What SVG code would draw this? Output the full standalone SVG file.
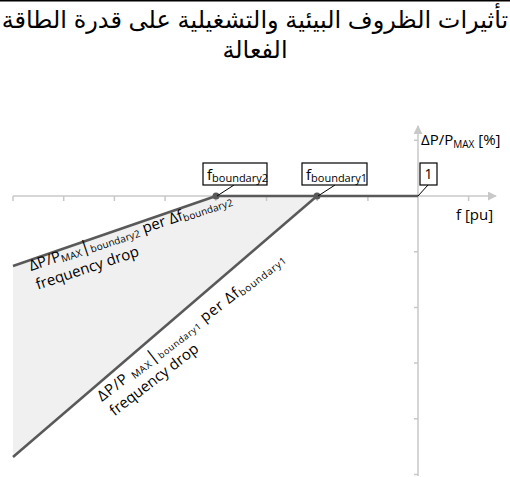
<svg xmlns="http://www.w3.org/2000/svg" width="510" height="477" viewBox="0 0 510 477">
<style>
.title{font-family:"Liberation Sans","DejaVu Sans",sans-serif;font-size:24px;fill:#000;text-anchor:middle}
.lbl{font-family:"Open Sans","Noto Sans",sans-serif;font-size:15px;fill:#000}
.sub{font-size:10px}
.axis{stroke:#c8c8c8;stroke-width:1.5;fill:none}
.data{stroke:#595959;stroke-width:2.5;fill:none}
.box{fill:#fff;stroke:#000;stroke-width:1.2}
.lead{stroke:#000;stroke-width:1;fill:none}
</style>
<defs>
<marker id="arr" viewBox="0 0 10 10" refX="9" refY="5" markerWidth="9" markerHeight="9" markerUnits="userSpaceOnUse" orient="auto">
<path d="M0,0 L10,5 L0,10 z" fill="#c8c8c8"/>
</marker>
</defs>
<rect x="0" y="0" width="510" height="1.5" fill="#000"/>
<text class="title" x="255" y="28">تأثيرات الظروف البيئية والتشغيلية على قدرة الطاقة</text>
<text class="title" x="255" y="58">الفعالة</text>

<g id="area">
<polygon points="13,266 216,196 317,196 13,457" fill="#f0f0f0"/>
</g>

<g id="axes">
<line class="axis" x1="13" y1="196" x2="496" y2="196" marker-end="url(#arr)"/>
<line class="axis" x1="418" y1="476" x2="418" y2="126" marker-end="url(#arr)"/>
<path class="axis" d="M13,196v5 M63.7,196v5 M114.4,196v5 M165.1,196v5 M215.8,196v5 M266.5,196v5 M317.2,196v5 M367.9,196v5 M468.6,196v5"/>
<path class="axis" d="M418,140.3h-4 M418,251.7h-4 M418,307.4h-4 M418,363.1h-4 M418,418.8h-4 M418,474.5h-4"/>
<text class="lbl" x="421" y="145">ΔP/P<tspan class="sub" dy="3">MAX</tspan><tspan dy="-3"> [%]</tspan></text>
<text class="lbl" x="456" y="220">f [pu]</text>
</g>

<g id="connectors">
<line class="data" x1="216" y1="196" x2="418" y2="196"/>
<line class="data" x1="216" y1="196" x2="13" y2="266"/>
<line class="data" x1="317" y1="196" x2="13" y2="457"/>
<circle cx="216" cy="196" r="3.5" fill="#595959"/>
<circle cx="317" cy="196" r="3.5" fill="#595959"/>
<line class="lead" x1="234" y1="185" x2="217" y2="196"/>
<line class="lead" x1="335" y1="185" x2="318" y2="196"/>
<line class="lead" x1="428" y1="185" x2="418" y2="196"/>
</g>

<g id="node-fb2">
<rect class="box" x="203" y="163" width="64" height="22"/>
<text class="lbl" x="207" y="180" style="font-size:15px">f<tspan style="font-size:11px" dy="2">boundary2</tspan></text>
</g>
<g id="node-fb1">
<rect class="box" x="302" y="163" width="65" height="22"/>
<text class="lbl" x="306" y="180" style="font-size:15px">f<tspan style="font-size:11px" dy="2">boundary1</tspan></text>
</g>
<g id="node-1">
<rect class="box" x="420" y="163" width="17" height="22"/>
<text class="lbl" x="428.5" y="179" style="font-size:14px" text-anchor="middle">1</text>
</g>

<g id="label-2" transform="translate(31,271) rotate(-18.5)">
<text class="lbl" x="0" y="0" textLength="213">ΔP/P<tspan class="sub" dy="2">MAX</tspan><tspan dy="-2" style="font-size:17px">|</tspan><tspan class="sub" dy="2">boundary2</tspan><tspan dy="-2"> per Δf</tspan><tspan class="sub" dy="2">boundary2</tspan></text>
<text class="lbl" x="0.5" y="20">frequency drop</text>
</g>
<g id="label-1" transform="translate(102,402) rotate(-37.6)">
<text class="lbl" x="0" y="0" textLength="232">ΔP/P <tspan class="sub" dy="2">MAX</tspan><tspan dy="-2" style="font-size:17px">|</tspan><tspan class="sub" dy="2" style="font-size:9px">boundary1</tspan><tspan dy="-2"> per Δf</tspan><tspan class="sub" dy="2">boundary1</tspan></text>
<text class="lbl" x="1" y="19">frequency drop</text>
</g>
</svg>
